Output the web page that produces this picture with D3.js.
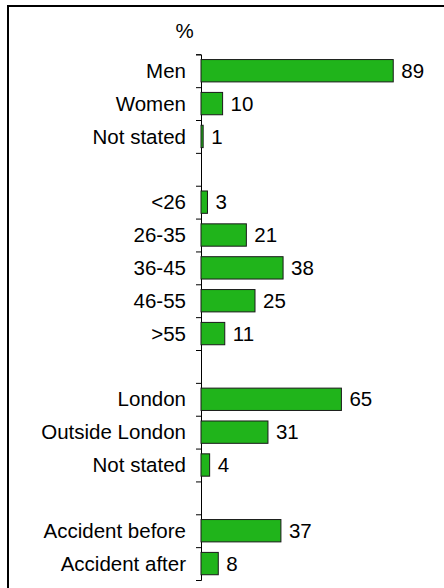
<!DOCTYPE html>
<html>
<head>
	<title>Percent by group</title>
	<script src="https://d3js.org/d3.v7.min.js"></script>
	<style>
		body { margin: 0; background: #fff; }
		text { font-family: "Liberation Sans", Arial, sans-serif; font-size: 20.5px; fill: #000; }
	</style>
</head>
<body>
	<svg id="chart" width="444" height="588"></svg>
<script type="text/javascript">
	// rows top to bottom, "" = spacer row
	var categories = ["Men", "Women", "Not stated", "", "<26", "26-35", "36-45", "46-55", ">55", "",
		"London", "Outside London", "Not stated", "", "Accident before", "Accident after"];
	var values = [89, 10, 1, null, 3, 21, 38, 25, 11, null, 65, 31, 4, null, 37, 8];
	var unitLabel = "%";

	var svg = d3.select('#chart');

	// outer frame (runs off the right and bottom of the picture)
	svg.append('rect')
		.attr('x', 8).attr('y', 6)
		.attr('width', 480).attr('height', 620)
		.attr('fill', 'none')
		.attr('stroke', '#000')
		.attr('stroke-width', 2);

	var y = d3.scaleLinear().domain([0, categories.length]).range([54.3, 580]);
	var x = d3.scaleLinear().domain([0, 100]).range([201, 417]);
	var step = y(1) - y(0);

	var axis = d3.axisLeft(y)
		.tickValues(d3.range(categories.length + 1))
		.tickSize(5)
		.tickFormat('');

	svg.append('g')
		.attr('transform', 'translate(' + x(0) + ',0)')
		.call(axis)
		.call(function(g) {
			g.selectAll('line, path').attr('stroke', '#000');
		});

	var rows = categories.map(function(c, i) { return {name: c, value: values[i], i: i}; });

	// category labels
	svg.append('g').selectAll('text')
		.data(rows.filter(function(d) { return d.name !== ''; }))
		.join('text')
			.attr('x', x(0) - 15)
			.attr('y', function(d) { return y(d.i) + step / 2; })
			.attr('dy', '0.35em')
			.attr('text-anchor', 'end')
			.text(function(d) { return d.name; });

	var withValues = rows.filter(function(d) { return d.value != null; });

	svg.append('g').selectAll('rect')
		.data(withValues)
		.join('rect')
			.attr('x', x(0))
			.attr('y', function(d) { return y(d.i) + step * 0.16; })
			.attr('width', function(d) { return x(d.value) - x(0); })
			.attr('height', step * 0.68)
			.attr('fill', '#20b41b')
			.attr('stroke', '#1a1a1a')
			.attr('stroke-width', 1);

	svg.append('g').selectAll('text')
		.data(withValues)
		.join('text')
			.attr('x', function(d) { return x(d.value) + 8; })
			.attr('y', function(d) { return y(d.i) + step / 2; })
			.attr('dy', '0.35em')
			.text(function(d) { return d.value; });

	svg.append('text')
		.attr('x', 184.5)
		.attr('y', 38)
		.attr('text-anchor', 'middle')
		.text(unitLabel);
</script>
</body>
</html>
